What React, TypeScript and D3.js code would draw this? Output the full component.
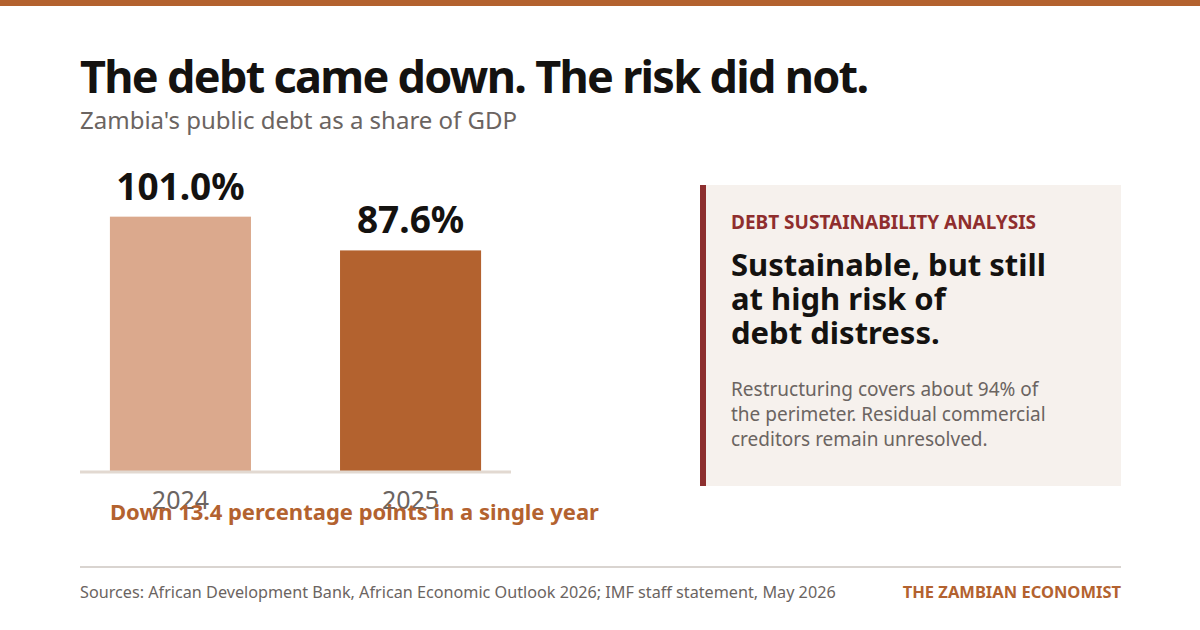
import * as d3 from 'd3';

const WIDTH = 1200;
const HEIGHT = 630;
const FONT = '"Noto Sans", "Open Sans", sans-serif';

const ACCENT = '#b3622f';
const GREY = '#6b6461';
const INK = '#141210';

// data
const years = ['2024', '2025'];
const debtShare = [101.0, 87.6];
const barColors = ['#dba98d', '#b3622f'];
const panelBody = [
  'Restructuring covers about 94% of',
  'the perimeter. Residual commercial',
  'creditors remain unresolved.',
];
const panelHeadline = ['Sustainable, but still', 'at high risk of', 'debt distress.'];

const CHART = { left: 80, right: 511, baseline: 471, top: 194 };

export default function App() {
  const x = d3
    .scaleBand<string>()
    .domain(years)
    .range([CHART.left, CHART.right])
    .paddingInner(0.387)
    .paddingOuter(0.13);

  const y = d3.scaleLinear().domain([0, 110]).range([CHART.baseline, CHART.top]);

  const change = d3.format('.1f')(debtShare[0] - debtShare[1]);

  return (
    <svg
      width={WIDTH}
      height={HEIGHT}
      viewBox={`0 0 ${WIDTH} ${HEIGHT}`}
      style={{ display: 'block', position: 'absolute', left: 0, top: 0, background: '#fff' }}
      fontFamily={FONT}
    >
      <rect x={0} y={0} width={WIDTH} height={HEIGHT} fill='#fff' />
      <rect x={0} y={0} width={WIDTH} height={6} fill={ACCENT} />

      <text x={80} y={93} fontSize={45} fontWeight={700} letterSpacing={-1.7} fill={INK}>
        The debt came down. The risk did not.
      </text>
      <text x={80} y={129} fontSize={24} fill={GREY}>
        Zambia's public debt as a share of GDP
      </text>

      {/* bars */}
      {years.map((yr, i) => (
        <g key={yr}>
          <rect
            x={x(yr)}
            y={y(debtShare[i])}
            width={x.bandwidth()}
            height={CHART.baseline - y(debtShare[i])}
            fill={barColors[i]}
          />
          <text
            x={(x(yr) ?? 0) + x.bandwidth() / 2}
            y={y(debtShare[i]) - 17}
            textAnchor='middle'
            fontSize={37}
            fontWeight={700}
            fill={INK}
          >
            {d3.format('.1f')(debtShare[i])}%
          </text>
          <text
            x={(x(yr) ?? 0) + x.bandwidth() / 2}
            y={509}
            textAnchor='middle'
            fontSize={25}
            fill={GREY}
          >
            {yr}
          </text>
        </g>
      ))}
      <line
        x1={CHART.left}
        x2={CHART.right}
        y1={CHART.baseline + 1}
        y2={CHART.baseline + 1}
        stroke='#e2d9d1'
        strokeWidth={3}
      />
      <text x={110} y={520} fontSize={22} fontWeight={700} fill={ACCENT}>
        Down {change} percentage points in a single year
      </text>

      {/* side panel */}
      <rect x={700} y={185} width={421} height={301} fill='#f6f1ed' />
      <rect x={700} y={185} width={6} height={301} fill='#8d2f2f' />
      <text x={731} y={229} fontSize={19} fontWeight={700} fill='#8f2e2e'>
        DEBT SUSTAINABILITY ANALYSIS
      </text>
      {panelHeadline.map((line, i) => (
        <text key={line} x={731} y={276 + i * 34} fontSize={31} fontWeight={700} fill={INK}>
          {line}
        </text>
      ))}
      {panelBody.map((line, i) => (
        <text key={line} x={731} y={396 + i * 25} fontSize={19} fill={GREY}>
          {line}
        </text>
      ))}

      {/* footer */}
      <line x1={80} x2={1121} y1={567} y2={567} stroke='#d9d4d0' strokeWidth={2} />
      <text x={80} y={598} fontSize={16.2} fill={GREY}>
        Sources: African Development Bank, African Economic Outlook 2026; IMF staff statement, May 2026
      </text>
      <text x={1121} y={598} fontSize={16.5} fontWeight={700} fill={ACCENT} textAnchor='end'>
        THE ZAMBIAN ECONOMIST
      </text>
    </svg>
  );
}
